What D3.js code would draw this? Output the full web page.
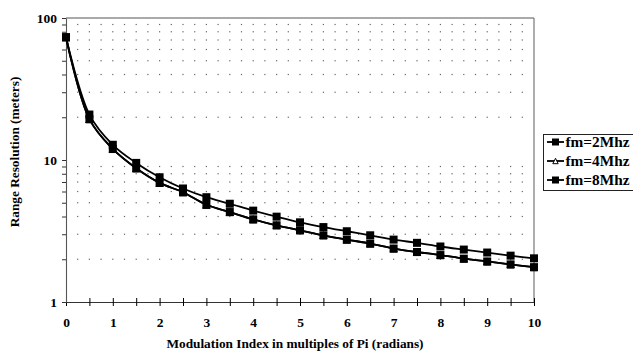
<!DOCTYPE html>
<html>
<head>
<meta charset="utf-8">
<script src="https://cdn.jsdelivr.net/npm/d3@7"></script>
<style>
  html, body { margin: 0; padding: 0; background: #fff; }
  svg { display: block; }
  text { font-family: "Liberation Serif", "Times New Roman", serif; font-weight: bold; fill: #000; }
</style>
</head>
<body>
<svg id="chart" width="633" height="356"></svg>
<script>
// ---- data ----
const xValues = [0, 0.5, 1, 1.5, 2, 2.5, 3, 3.5, 4, 4.5, 5, 5.5, 6, 6.5, 7, 7.5, 8, 8.5, 9, 9.5, 10];
const fm2 = [73.2, 20.9, 12.8, 9.54, 7.56, 6.30, 5.47, 4.92, 4.40, 3.99, 3.64, 3.37, 3.15, 2.95, 2.75, 2.61, 2.46, 2.34, 2.23, 2.12, 2.03];
const fm4 = [73.2, 19.4, 11.96, 8.74, 6.90, 5.93, 4.84, 4.30, 3.82, 3.47, 3.20, 2.95, 2.75, 2.58, 2.38, 2.25, 2.14, 2.02, 1.93, 1.84, 1.76];
const fm8 = [73.2, 19.4, 11.96, 8.74, 6.90, 5.93, 4.84, 4.30, 3.82, 3.47, 3.20, 2.95, 2.75, 2.58, 2.38, 2.25, 2.14, 2.02, 1.93, 1.84, 1.76];
const seriesNames = ["fm=2Mhz", "fm=4Mhz", "fm=8Mhz"];
const seriesMarkers = ["square", "triangle", "square"];
const xTickLabels = [0, 1, 2, 3, 4, 5, 6, 7, 8, 9, 10];
const yTickLabels = [1, 10, 100];
const xTitle = "Modulation Index in multiples of Pi (radians)";
const yTitle = "Range Resolution (meters)";

const seriesData = [fm2, fm4, fm8];

// ---- layout ----
const svg = d3.select("#chart");
const pLeft = 66, pRight = 534, pTop = 18, pBottom = 302;

const x = d3.scaleLinear().domain([0, 10]).range([pLeft, pRight]);
const y = d3.scaleLog().domain([1, 100]).range([pBottom, pTop]);

// dotted grid (minor log values, dots every 0.25)
const gridVals = [];
for (let d = 1; d < 100; d *= 10) for (let m = 2; m <= 9; m++) gridVals.push(m * d);
const dotXs = d3.range(1, 40).map(i => i * 0.25);
const gridG = svg.append("g");
gridVals.forEach(v => {
  dotXs.forEach(xx => {
    gridG.append("rect")
      .attr("x", x(xx) - 0.6).attr("y", y(v) - 0.6)
      .attr("width", 1.2).attr("height", 1.2)
      .attr("fill", "#666");
  });
});

// frame: top and right borders
svg.append("line").attr("x1", pLeft).attr("x2", pRight).attr("y1", pTop).attr("y2", pTop)
  .attr("stroke", "#555").attr("stroke-width", 1);
svg.append("line").attr("x1", pRight).attr("x2", pRight).attr("y1", pTop).attr("y2", pBottom)
  .attr("stroke", "#777").attr("stroke-width", 1.2);

// x axis
const xAxis = d3.axisBottom(x)
  .tickValues(d3.range(0, 10.01, 0.5))
  .tickSizeInner(4).tickSizeOuter(0)
  .tickFormat(d => (Number.isInteger(d) && xTickLabels.includes(d)) ? d : "");
const gx = svg.append("g").attr("transform", `translate(0,${pBottom})`).call(xAxis);
gx.select(".domain").attr("stroke", "#333").attr("stroke-width", 1.1);
gx.selectAll(".tick line").attr("y1", -4).attr("y2", 4).attr("stroke", "#000");
gx.selectAll(".tick text").attr("y", 15).attr("font-size", 13.5)
  .style("font-family", "'Liberation Serif', serif").style("font-weight", "bold");

// y axis
const yAxis = d3.axisLeft(y)
  .tickValues(gridVals.concat(yTickLabels))
  .tickSizeInner(4).tickSizeOuter(0)
  .tickFormat(d => yTickLabels.includes(d) ? d : "");
const gy = svg.append("g").attr("transform", `translate(${pLeft},0)`).call(yAxis);
gy.select(".domain").attr("stroke", "#555").attr("stroke-width", 1.1);
gy.selectAll(".tick line").attr("stroke", "#333");
gy.selectAll(".tick text").attr("x", -9).attr("font-size", 13.5)
  .style("font-family", "'Liberation Serif', serif").style("font-weight", "bold");

// lines
const line = d3.line()
  .x((d, i) => x(xValues[i]))
  .y(d => y(d))
  .curve(d3.curveCatmullRom.alpha(0.5));

seriesData.forEach((vals, si) => {
  svg.append("path").datum(vals)
    .attr("d", line).attr("fill", "none")
    .attr("stroke", "#000").attr("stroke-width", 1.8);
});

function drawMarker(g, type, cx, cy, s) {
  if (type === "square") {
    g.append("rect").attr("x", cx - s / 2).attr("y", cy - s / 2)
      .attr("width", s).attr("height", s).attr("fill", "#000");
  } else {
    const h = s * 0.9;
    g.append("path")
      .attr("d", `M${cx},${cy - h / 2} L${cx + h / 2},${cy + h / 2} L${cx - h / 2},${cy + h / 2} Z`)
      .attr("fill", "#fff").attr("stroke", "#000").attr("stroke-width", 1);
  }
}

const markG = svg.append("g");
seriesData.forEach((vals, si) => {
  vals.forEach((v, i) => drawMarker(markG, seriesMarkers[si], x(xValues[i]), y(v), 8));
});

// axis titles
svg.append("text").attr("x", 295).attr("y", 348)
  .attr("text-anchor", "middle").attr("font-size", 13.3).text(xTitle);
svg.append("text")
  .attr("transform", `translate(19,152) rotate(-90)`)
  .attr("text-anchor", "middle").attr("font-size", 13.3).text(yTitle);

// legend
const lg = svg.append("g");
lg.append("rect").attr("x", 543.5).attr("y", 134.5).attr("width", 100).attr("height", 56)
  .attr("fill", "#fff").attr("stroke", "#222").attr("stroke-width", 1);
const rowYs = [142, 161, 180];
seriesNames.forEach((name, i) => {
  const ry = rowYs[i];
  lg.append("line").attr("x1", 547).attr("x2", 564).attr("y1", ry).attr("y2", ry)
    .attr("stroke", "#000").attr("stroke-width", 1.8);
  drawMarker(lg, seriesMarkers[i], 555.5, ry, seriesMarkers[i] === "square" ? 7 : 6);
  lg.append("text").attr("x", 565.5).attr("y", ry + 5).attr("font-size", 15.3).text(name);
});
</script>
</body>
</html>
